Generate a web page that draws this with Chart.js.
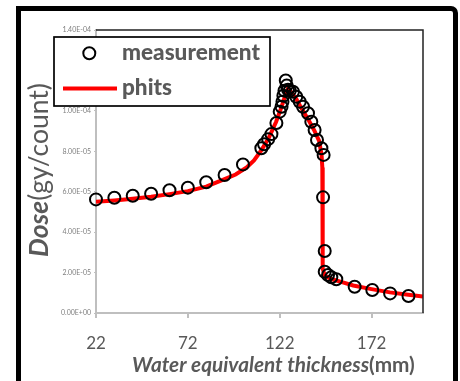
<!DOCTYPE html>
<html><head><meta charset="utf-8">
<script src="https://cdn.jsdelivr.net/npm/chart.js@4/dist/chart.umd.min.js"></script>
<style>html,body{margin:0;padding:0;background:#fff;overflow:hidden}#wrap{position:relative;width:460px;height:381px}</style>
</head><body><div id="wrap"><canvas id="c" width="460" height="381"></canvas></div>
<script>
const seriesNames = ['measurement', 'phits'];
const measX = [22, 32, 42, 52, 62, 72, 82, 92, 102, 112, 113.5, 115.7, 117.5, 120.2, 122, 123, 123.5, 124, 124.6, 125.3, 125.8, 126.5, 127.5, 129.2, 131, 132.9, 134.7, 137.4, 139.2, 141, 142.3, 144.7, 145.9, 145.6, 146.5, 146.5, 148.3, 150.1, 152.8, 162.8, 172.4, 182.1, 192.1];
const measY = [5.62e-5, 5.70e-5, 5.80e-5, 5.90e-5, 6.07e-5, 6.20e-5, 6.47e-5, 6.83e-5, 7.35e-5, 8.15e-5, 8.35e-5, 8.60e-5, 8.85e-5, 9.40e-5, 9.96e-5, 1.02e-4, 1.045e-4, 1.075e-4, 1.10e-4, 1.15e-4, 1.125e-4, 1.105e-4, 1.10e-4, 1.095e-4, 1.07e-4, 1.045e-4, 1.02e-4, 9.88e-5, 9.46e-5, 9.05e-5, 8.56e-5, 8.15e-5, 7.82e-5, 5.72e-5, 3.07e-5, 2.04e-5, 1.88e-5, 1.77e-5, 1.67e-5, 1.30e-5, 1.14e-5, 9.7e-6, 8.4e-6];
const phitsX = [22, 32, 42, 52, 62, 72, 82, 92, 98, 104, 108, 112, 116, 120, 123, 125, 126.5, 128, 131, 134, 138, 141, 143.5, 144.8, 145.2, 145.4, 146.5, 150, 155, 162, 172, 182, 192, 200];
const phitsY = [5.50e-5, 5.57e-5, 5.65e-5, 5.75e-5, 5.88e-5, 6.03e-5, 6.25e-5, 6.62e-5, 6.85e-5, 7.20e-5, 7.55e-5, 8.05e-5, 8.65e-5, 9.45e-5, 1.02e-4, 1.075e-4, 1.11e-4, 1.095e-4, 1.06e-4, 1.01e-4, 9.5e-5, 9.0e-5, 8.5e-5, 7.8e-5, 7.2e-5, 2.2e-5, 1.85e-5, 1.68e-5, 1.55e-5, 1.36e-5, 1.18e-5, 1.02e-5, 9.0e-6, 8.1e-6];
const xTickValues = [22, 72, 122, 172];
const yTickValues = [0, 2e-5, 4e-5, 6e-5, 8e-5, 1e-4, 1.2e-4, 1.4e-4];
const xTitleParts = ['Water equivalent thickness', '(mm)'];
const yTitleParts = ['Dose', '(gy/count)'];

const GRAY = '#595959';
const FAM = 'Lato, "Open Sans", sans-serif';

function fmtSci(v) {
  const s = v.toExponential(2).toUpperCase();
  const m = s.match(/^(-?[\d.]+)E([+-])(\d+)$/);
  return m[1] + 'E' + m[2] + m[3].padStart(2, '0');
}

function fitFonts(ctx, parts, styles, target) {
  let size = 30;
  for (let i = 0; i < 60; i++) {
    let w = 0;
    parts.forEach((p, k) => { ctx.font = styles[k] + ' ' + size + 'px ' + FAM; w += ctx.measureText(p).width; });
    if (Math.abs(w - target) < 0.3) break;
    size = size * target / w;
  }
  return size;
}

const decor = {
  id: 'decor',
  beforeDraw(chart) {
    const ctx = chart.ctx;
    ctx.save(); ctx.fillStyle = '#fff'; ctx.fillRect(0, 0, chart.width, chart.height); ctx.restore();
  },
  afterDraw(chart) {
    const ctx = chart.ctx;
    const a = chart.chartArea;
    ctx.save();
    ctx.strokeStyle = '#222'; ctx.lineWidth = 1.5;
    ctx.beginPath();
    ctx.moveTo(a.left, a.top); ctx.lineTo(a.right, a.top); ctx.lineTo(a.right, a.bottom);
    ctx.stroke();

    // legend box
    ctx.fillStyle = '#fff';
    ctx.fillRect(54, 37, 216, 69);
    ctx.strokeStyle = '#000'; ctx.lineWidth = 1.7;
    ctx.strokeRect(54, 37, 216, 69);
    ctx.beginPath(); ctx.arc(89.3, 53.3, 6, 0, Math.PI * 2);
    ctx.strokeStyle = '#000'; ctx.lineWidth = 2; ctx.stroke();
    ctx.beginPath(); ctx.moveTo(63, 88.5); ctx.lineTo(117, 88.5);
    ctx.strokeStyle = '#ff0000'; ctx.lineWidth = 4; ctx.stroke();
    const ls = fitFonts(ctx, [seriesNames[0]], ['900'], 138);
    ctx.font = '900 ' + ls + 'px ' + FAM;
    ctx.fillStyle = GRAY; ctx.textBaseline = 'alphabetic'; ctx.textAlign = 'left';
    ctx.fillText(seriesNames[0], 122, 60);
    ctx.fillText(seriesNames[1], 122, 95);

    // x title
    const xs = fitFonts(ctx, xTitleParts, ['italic bold', 'bold'], 283);
    let x = 132;
    ctx.font = 'italic bold ' + xs + 'px ' + FAM; ctx.fillText(xTitleParts[0], x, 372);
    x += ctx.measureText(xTitleParts[0]).width;
    ctx.font = 'bold ' + xs + 'px ' + FAM; ctx.fillText(xTitleParts[1], x, 372);

    // y title
    const ys = fitFonts(ctx, yTitleParts, ['italic bold', 'normal'], 174);
    ctx.translate(48, 257); ctx.rotate(-Math.PI / 2);
    ctx.font = 'italic bold ' + ys + 'px ' + FAM; ctx.fillText(yTitleParts[0], 0, 0);
    const w0 = ctx.measureText(yTitleParts[0]).width;
    ctx.font = 'normal ' + ys + 'px ' + FAM; ctx.fillText(yTitleParts[1], w0, 0);
    ctx.restore();

    // outer frame
    ctx.save();
    ctx.strokeStyle = '#000'; ctx.lineWidth = 5;
    ctx.beginPath();
    ctx.moveTo(18.5, 420); ctx.lineTo(18.5, 8.5); ctx.lineTo(451, 8.5);
    ctx.arcTo(455.5, 8.5, 455.5, 13, 4.5); ctx.lineTo(455.5, 420);
    ctx.stroke();
    ctx.restore();
  }
};

new Chart(document.getElementById('c'), {
  type: 'scatter',
  data: {
    datasets: [
      { label: seriesNames[0], data: measX.map((v, i) => ({ x: v, y: measY[i] })), showLine: false, clip: false,
        pointStyle: 'circle', pointRadius: 6, pointBorderWidth: 2, borderColor: '#000', backgroundColor: 'rgba(0,0,0,0)', pointBackgroundColor: 'rgba(0,0,0,0)', order: 0 },
      { label: seriesNames[1], data: phitsX.map((v, i) => ({ x: v, y: phitsY[i] })), showLine: true,
        pointRadius: 0, borderColor: '#ff0000', borderWidth: 4, tension: 0, order: 1 }
    ]
  },
  options: {
    responsive: false, animation: false, devicePixelRatio: 1,
    layout: { padding: { left: 0, right: 37, top: 30, bottom: 0 } },
    plugins: { legend: { display: false }, tooltip: { enabled: false } },
    scales: {
      x: {
        type: 'linear', min: 22, max: 200,
        afterBuildTicks: s => { s.ticks = xTickValues.map(v => ({ value: v })); },
        afterFit: s => { s.height = 68; },
        ticks: { font: { family: FAM, size: 17 }, color: GRAY, padding: 15, maxRotation: 0, callback: v => String(v) },
        grid: { drawOnChartArea: false, drawTicks: true, tickLength: 5, color: '#bfbfbf', lineWidth: 2 },
        border: { color: '#bfbfbf', width: 2 }
      },
      y: {
        min: 0, max: 1.4e-4,
        afterBuildTicks: s => { s.ticks = yTickValues.map(v => ({ value: v })); },
        afterFit: s => { s.width = 96; },
        ticks: { font: { family: FAM, size: 7 }, color: '#7f7f7f', padding: 3, callback: v => fmtSci(v) },
        grid: { drawOnChartArea: false, drawTicks: true, tickLength: 2, color: '#bfbfbf', lineWidth: 1 },
        border: { color: '#bfbfbf', width: 2 }
      }
    }
  },
  plugins: [decor]
});
</script>
</body></html>
